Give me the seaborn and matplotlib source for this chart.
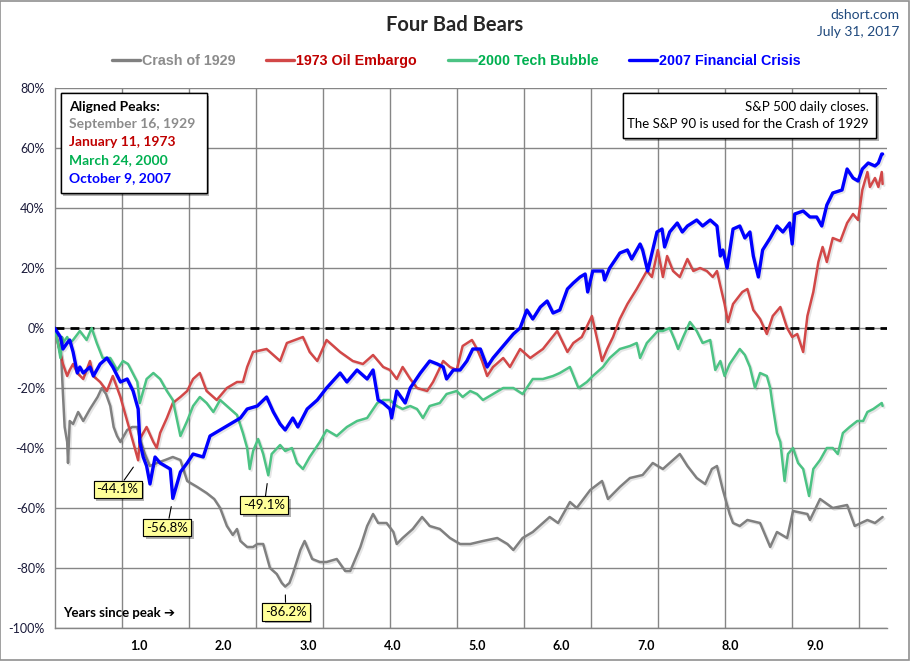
import matplotlib
matplotlib.use("Agg")
import numpy as np
import pandas as pd
import matplotlib.pyplot as plt
import matplotlib.patheffects as pe
from matplotlib.lines import Line2D
from matplotlib.patches import Rectangle
import seaborn as sns

# --- data (years since peak, % change from peak) ---
yrs_1929 = [0.00, 0.04, 0.08, 0.10, 0.12, 0.15, 0.16, 0.18, 0.22, 0.28,
            0.34, 0.42, 0.51, 0.56, 0.61, 0.66, 0.70, 0.74, 0.78, 0.82,
            0.86, 0.92, 0.98, 1.01, 1.07, 1.13, 1.21, 1.31, 1.40, 1.49,
            1.57, 1.69, 1.80, 1.89, 1.96, 2.04, 2.11, 2.16, 2.20, 2.28,
            2.35, 2.40, 2.47, 2.55, 2.63, 2.69, 2.73, 2.78, 2.82, 2.91,
            2.96, 3.05, 3.14, 3.22, 3.34, 3.44, 3.50, 3.62, 3.70, 3.77,
            3.83, 3.93, 4.01, 4.05, 4.12, 4.24, 4.35, 4.44, 4.56, 4.68,
            4.80, 4.92, 5.07, 5.24, 5.36, 5.43, 5.54, 5.66, 5.86, 5.96,
            6.10, 6.18, 6.34, 6.48, 6.55, 6.69, 6.81, 6.96, 7.08, 7.20,
            7.40, 7.49, 7.60, 7.70, 7.78, 7.84, 7.91, 7.99, 8.03, 8.11,
            8.20, 8.35, 8.47, 8.55, 8.67, 8.74, 8.91, 8.94, 9.06, 9.21,
            9.38, 9.47, 9.62, 9.71, 9.80]
pct_1929 = [0, -5, -10, -22, -33, -38, -45, -31, -32, -28,
            -31, -27, -23, -20, -22, -26, -33, -36, -38, -36,
            -34, -33, -33, -37, -42, -46, -45, -44, -43, -44,
            -51, -53, -55, -57, -60, -66, -69, -67, -71, -73,
            -73, -72, -72, -80, -82, -85, -86.2, -85, -82, -74,
            -71, -77, -78, -78, -77, -81, -81, -73, -66, -62,
            -65, -65, -68, -72, -70, -67, -63, -66, -67, -70,
            -72, -72, -71, -70, -72, -74, -70, -68, -63, -65,
            -58, -60, -54, -51, -57, -53, -50, -49, -45, -47,
            -42, -46, -50, -52, -47, -46, -54, -62, -65, -66,
            -64, -65, -73, -68, -70, -61, -62, -64, -57, -60,
            -59, -66, -64, -65, -63]

yrs_1973 = [0.00, 0.04, 0.10, 0.15, 0.18, 0.22, 0.27, 0.34, 0.42, 0.46,
            0.54, 0.62, 0.69, 0.78, 0.86, 0.93, 0.99, 1.01, 1.09, 1.17,
            1.21, 1.25, 1.33, 1.40, 1.49, 1.57, 1.64, 1.72, 1.80, 1.92,
            2.04, 2.16, 2.23, 2.28, 2.35, 2.51, 2.67, 2.75, 2.94, 3.02,
            3.11, 3.22, 3.38, 3.53, 3.65, 3.77, 3.89, 3.97, 4.05, 4.12,
            4.21, 4.29, 4.41, 4.48, 4.60, 4.68, 4.76, 4.83, 4.94, 5.00,
            5.06, 5.12, 5.19, 5.31, 5.39, 5.51, 5.63, 5.78, 5.95, 6.07,
            6.14, 6.24, 6.36, 6.48, 6.54, 6.61, 6.69, 6.78, 6.89, 7.01,
            7.07, 7.14, 7.20, 7.25, 7.32, 7.40, 7.49, 7.56, 7.64, 7.72,
            7.79, 7.84, 7.88, 7.93, 7.97, 8.03, 8.14, 8.20, 8.27, 8.35,
            8.43, 8.50, 8.59, 8.67, 8.73, 8.79, 8.86, 8.91, 8.98, 9.04,
            9.09, 9.14, 9.21, 9.30, 9.38, 9.45, 9.51, 9.56, 9.62, 9.65,
            9.71, 9.75, 9.79, 9.80]
pct_1973 = [0, -5, -12, -16, -14, -12, -15, -17, -11, -16,
            -18, -21, -16, -23, -31, -38, -44.1, -37, -33, -38,
            -40, -35, -30, -25, -23, -21, -17, -15, -21, -24,
            -20, -18, -18, -13, -8, -7, -11, -5, -3, -8,
            -11, -4, -8, -11, -12, -9, -13, -14, -17, -13,
            -17, -20, -21, -18, -11, -13, -14, -6, -4, -7,
            -11, -16, -13, -10, -13, -7, -10, -7, -1, -8,
            -5, -3, 4, -11, -7, -3, 3, 8, 13, 19,
            17, 26, 17, 24, 19, 17, 23, 19, 20, 19,
            17, 19, 14, 8, 2, 8, 12, 13, 6, 3,
            -2, 4, 7, 0, -3, -2, -8, 4, 12, 22,
            27, 22, 30, 29, 35, 38, 36, 46, 52, 47,
            50, 47, 52, 48]

yrs_2000 = [0.00, 0.04, 0.07, 0.09, 0.10, 0.15, 0.18, 0.22, 0.30, 0.38,
            0.44, 0.50, 0.57, 0.66, 0.74, 0.81, 0.87, 0.98, 1.01, 1.09,
            1.17, 1.25, 1.33, 1.40, 1.49, 1.57, 1.64, 1.72, 1.80, 1.88,
            1.96, 2.08, 2.16, 2.23, 2.28, 2.31, 2.35, 2.41, 2.47, 2.53,
            2.57, 2.67, 2.73, 2.81, 2.87, 2.94, 3.02, 3.14, 3.22, 3.34,
            3.46, 3.58, 3.70, 3.82, 3.89, 3.97, 4.05, 4.12, 4.21, 4.29,
            4.36, 4.44, 4.56, 4.64, 4.76, 4.83, 4.92, 5.00, 5.07, 5.19,
            5.31, 5.43, 5.54, 5.66, 5.78, 5.90, 5.98, 6.10, 6.20, 6.30,
            6.37, 6.49, 6.57, 6.69, 6.81, 6.89, 6.93, 7.01, 7.14, 7.20,
            7.28, 7.34, 7.38, 7.44, 7.52, 7.60, 7.67, 7.76, 7.82, 7.88,
            7.93, 7.99, 8.11, 8.17, 8.23, 8.29, 8.35, 8.43, 8.47, 8.50,
            8.55, 8.59, 8.64, 8.68, 8.74, 8.80, 8.86, 8.93, 8.98, 9.06,
            9.14, 9.21, 9.27, 9.33, 9.41, 9.50, 9.57, 9.62, 9.69, 9.79,
            9.80]
pct_2000 = [0, -5, -10, -3, -5, -3, -5, -4, -1, -4,
            0, -5, -10, -10, -14, -11, -12, -18, -25, -17,
            -15, -17, -21, -24, -36, -31, -26, -23, -25, -28,
            -24, -27, -29, -35, -40, -47, -41, -37, -42, -49.1,
            -42, -39, -41, -40, -45, -47, -43, -38, -34, -36,
            -33, -31, -30, -25, -24, -24, -26, -27, -26, -27,
            -30, -26, -25, -22, -21, -23, -21, -22, -24, -22,
            -20, -20, -22, -17, -17, -16, -15, -13, -20, -18,
            -16, -13, -10, -7, -6, -5, -10, -5, -1, -1,
            0, -4, -7, -3, 2, -1, -5, -4, -14, -11,
            -16, -12, -7, -9, -13, -20, -15, -16, -20, -26,
            -35, -38, -51, -42, -40, -45, -47, -56, -47, -44,
            -40, -40, -42, -35, -33, -31, -31, -28, -27, -25,
            -26]

yrs_2007 = [0.00, 0.07, 0.10, 0.15, 0.18, 0.22, 0.27, 0.30, 0.34, 0.42,
            0.46, 0.54, 0.62, 0.69, 0.78, 0.86, 0.93, 0.99, 1.01, 1.05,
            1.09, 1.13, 1.19, 1.25, 1.31, 1.37, 1.40, 1.49, 1.57, 1.64,
            1.76, 1.84, 1.96, 2.08, 2.20, 2.28, 2.40, 2.51, 2.59, 2.67,
            2.73, 2.82, 2.88, 2.99, 3.11, 3.22, 3.38, 3.46, 3.58, 3.70,
            3.77, 3.83, 3.89, 3.97, 3.99, 4.05, 4.15, 4.21, 4.33, 4.44,
            4.53, 4.60, 4.64, 4.72, 4.80, 4.88, 4.95, 5.04, 5.12, 5.19,
            5.31, 5.43, 5.51, 5.59, 5.66, 5.75, 5.83, 5.90, 5.98, 6.07,
            6.14, 6.22, 6.28, 6.31, 6.37, 6.49, 6.51, 6.57, 6.69, 6.78,
            6.83, 6.93, 6.96, 7.02, 7.13, 7.19, 7.22, 7.28, 7.37, 7.43,
            7.49, 7.60, 7.67, 7.76, 7.84, 7.88, 7.91, 7.96, 8.03, 8.11,
            8.17, 8.23, 8.27, 8.33, 8.38, 8.47, 8.55, 8.62, 8.70, 8.73,
            8.76, 8.86, 8.94, 9.02, 9.08, 9.14, 9.21, 9.32, 9.38, 9.45,
            9.51, 9.56, 9.63, 9.71, 9.75, 9.79, 9.80]
pct_2007 = [0, -3, -7, -5, -4, -8, -15, -13, -15, -13,
            -16, -12, -10, -13, -18, -17, -21, -27, -38, -43,
            -46, -52, -43, -45, -46, -47, -56.8, -48, -45, -42,
            -43, -36, -34, -32, -30, -27, -26, -23, -28, -32,
            -34, -30, -33, -27, -24, -20, -15, -18, -14, -17,
            -14, -24, -25, -27, -30, -21, -25, -20, -15, -11,
            -12, -13, -17, -14, -14, -11, -7, -7, -13, -10,
            -6, -2, 0, 6, 3, 7, 9, 5, 6, 13,
            15, 17, 18, 12, 19, 19, 16, 20, 25, 26,
            23, 28, 26, 19, 32, 33, 27, 32, 35, 32,
            34, 36, 34, 36, 34, 24, 26, 20, 33, 34,
            30, 32, 24, 17, 26, 30, 34, 32, 35, 28,
            38, 39, 37, 37, 34, 41, 45, 46, 53, 50,
            49, 53, 55, 54, 55, 58, 58]

names = ["Crash of 1929", "1973 Oil Embargo", "2000 Tech Bubble", "2007 Financial Crisis"]
peak_dates = ["September 16, 1929", "January 11, 1973", "March 24, 2000", "October 9, 2007"]
y_ticks = [-100, -80, -60, -40, -20, 0, 20, 40, 60, 80]
x_ticks = [1, 2, 3, 4, 5, 6, 7, 8, 9]

line_colors = ["#808080", "#D24848", "#4CC384", "#0000FF"]
text_colors = ["#8C8C8C", "#C00000", "#00B050", "#0000FF"]
line_widths = [1.8, 1.8, 1.8, 2.4]

sns.set_theme(style="white")
plt.rcParams["font.family"] = ["Lato", "DejaVu Sans"]

W, H = 910, 661
fx = lambda px: px / W
fy = lambda py: 1 - py / H

fig = plt.figure(figsize=(9.1, 6.61), dpi=100)
fig.patch.set_facecolor("white")
ax = fig.add_axes([fx(54.5), fy(628), (887 - 54.5) / W, (628 - 88) / H])
ax.set_facecolor("white")

series = [(yrs_1929, pct_1929), (yrs_1973, pct_1973), (yrs_2000, pct_2000), (yrs_2007, pct_2007)]
shadow = [pe.SimpleLineShadow(offset=(1.2, -1.2), shadow_color="black", alpha=0.1), pe.Normal()]
for (yrs, pct), c, lw in zip(series, line_colors, line_widths):
    df = pd.DataFrame({"years": yrs, "pct": pct})
    sns.lineplot(data=df, x="years", y="pct", ax=ax, color=c, linewidth=lw,
                 sort=False, estimator=None, path_effects=shadow, zorder=3)

ax.axhline(0, color="black", lw=2, ls=(0, (3.2, 2.2)), zorder=2)

# axes, grid
ax.set_xlim(0, (887 - 54.5) / 84.5)
ax.set_ylim(-100, 80)
ax.set_yticks(y_ticks)
ax.set_yticklabels([f"{v}%" for v in y_ticks])
ax.set_xticks(x_ticks)
ax.set_xticklabels([f"{v:.1f}" for v in x_ticks], fontweight="bold")
ax.set_xticks(np.arange(1, 13) * 200 / 252, minor=True)
ax.grid(axis="y", which="major", color="#868686", lw=1, zorder=0)
ax.grid(axis="x", which="minor", color="#868686", lw=1, zorder=0)
ax.grid(axis="x", which="major", visible=False)
ax.tick_params(axis="y", length=4, width=1, color="#868686", pad=3, labelsize=9, labelcolor="#1A1A3A")
ax.tick_params(axis="x", which="both", length=0, pad=9, labelsize=9, labelcolor="black")
for s in ["top", "right"]:
    ax.spines[s].set_visible(False)
for s in ["left", "bottom"]:
    ax.spines[s].set_color("#868686")
    ax.spines[s].set_linewidth(1)
ax.set_xlabel("")
ax.set_ylabel("")

# callouts at each bear-market bottom (first 5 years)
offsets = [(0.4, -18), (-14.8, -21), (-2.9, -21.6), (-4, -21)]
box_shadow = [pe.withSimplePatchShadow(offset=(2, -2), shadow_rgbFace="black", alpha=0.3), pe.Normal()]
for (yrs, pct), off in zip(series, offsets):
    yrs_a, pct_a = np.array(yrs), np.array(pct)
    i = np.argmin(np.where(yrs_a < 5, pct_a, np.inf))
    ann = ax.annotate(f"{pct_a[i]:.1f}%", xy=(yrs_a[i], pct_a[i]), xytext=off,
                      textcoords="offset points", ha="center", va="center", fontsize=9.5,
                      color="black", zorder=6,
                      bbox=dict(boxstyle="square,pad=0.22", fc="#FFFF99", ec="black", lw=0.8),
                      arrowprops=dict(arrowstyle="-", color="black", lw=0.8, shrinkA=0, shrinkB=6))
    ann.get_bbox_patch().set_path_effects(box_shadow)

ax.text(fx(62.7), fy(613), "Years since peak \u2794", transform=fig.transFigure,
        ha="left", va="center", fontsize=9.5, fontweight="bold", color="black", zorder=6)

# title and source
fig.text(fx(455), fy(25), "Four Bad Bears", ha="center", va="center", fontsize=14.5, fontweight="bold")
fig.text(fx(899), fy(15), "dshort.com", ha="right", va="center", fontsize=10, color="#1F497D")
fig.text(fx(899), fy(32), "July 31, 2017", ha="right", va="center", fontsize=10, color="#1F497D")

# legend across the top
handles = [Line2D([], [], color=c, lw=2.4) for c in line_colors]
leg = fig.legend(handles, names, loc="center", bbox_to_anchor=(fx(456.5), fy(61)), ncol=4,
                 frameon=False, handlelength=1.95, handletextpad=0.15, columnspacing=2.15,
                 prop={"family": ["Liberation Sans", "DejaVu Sans"], "weight": "bold", "size": 10.3})
for t, c in zip(leg.get_texts(), text_colors):
    t.set_color(c)

# "Aligned Peaks" box
r1 = Rectangle((fx(60.7), fy(193.3)), 146 / W, 100 / H, transform=fig.transFigure,
               fc="white", ec="black", lw=1, zorder=5, path_effects=box_shadow)
fig.add_artist(r1)
fig.text(fx(69), fy(107), "Aligned Peaks:", ha="left", va="center", fontsize=10,
         fontweight="bold", color="black", zorder=6)
for k, (d, c) in enumerate(zip(peak_dates, text_colors)):
    fig.text(fx(69), fy(124.5 + 18 * k), d, ha="left", va="center", fontsize=10,
             fontweight="bold", color=c, zorder=6)

# note box
r2 = Rectangle((fx(622.7), fy(138.3)), 253.3 / W, 45 / H, transform=fig.transFigure,
               fc="white", ec="black", lw=1, zorder=5, path_effects=box_shadow)
fig.add_artist(r2)
fig.text(fx(868.7), fy(106.7), "S&P 500 daily closes.", ha="right", va="center",
         fontsize=9.5, color="black", zorder=6)
fig.text(fx(868.7), fy(124), "The S&P 90 is used for the Crash of 1929", ha="right",
         va="center", fontsize=9.5, color="black", zorder=6)

# outer frame
fig.add_artist(Rectangle((0.0005, 0.0008), 0.998, 0.998, transform=fig.transFigure,
                         fill=False, ec="#909090", lw=1.2))

fig.savefig("out.png", dpi=100)
